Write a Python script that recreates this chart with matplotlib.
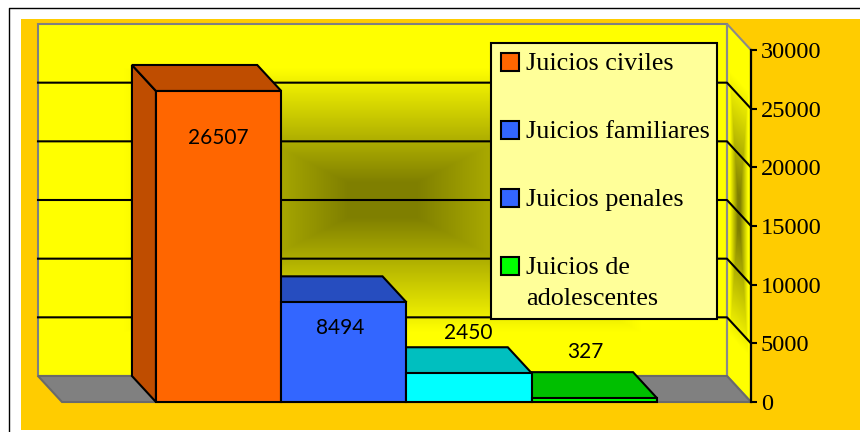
import matplotlib
matplotlib.use("Agg")
import matplotlib.pyplot as plt
import matplotlib.transforms as mtransforms
from matplotlib.colors import to_rgb
from matplotlib.patches import Polygon, Rectangle
import numpy as np

# ── data ──────────────────────────────────────────────────────────────────────
categories = ["Juicios civiles", "Juicios familiares", "Juicios penales",
              "Juicios de\nadolescentes"]
values = [26507, 8494, 2450, 327]
bar_colors = ["#FF6600", "#3366FF", "#00FFFF", "#00FF00"]
legend_colors = ["#FF6600", "#3366FF", "#3366FF", "#00FF00"]
y_ticks = [0, 5000, 10000, 15000, 20000, 25000, 30000]

# ── layout / style ────────────────────────────────────────────────────────────
W, H = 860, 432
DX, DY = 24, 26                     # 3-D depth offset in pixels (back is up-left)
GAP = 0.75                          # half gap (150% gap width) on each side
label_offsets = [(0, -47), (-4, -26), (-1, 40), (-9, 46)]   # pixels from bar top
YELLOW = np.array([1.0, 1.0, 0.0])
OLIVE = np.array([0.5, 0.5, 0.0])

plt.rcParams["font.family"] = ["Liberation Serif", "DejaVu Serif"]

fig = plt.figure(figsize=(W / 100, H / 100), dpi=100)
fig.patch.set_facecolor("white")

# background: white frame + orange chart area
bg = fig.add_axes([0, 0, 1, 1], zorder=0)
bg.set_xlim(0, W)
bg.set_ylim(H, 0)
bg.axis("off")
bg.add_patch(Rectangle((21, 19), W - 21, 411, facecolor="#FFCC00", edgecolor="none"))
bg.plot([9, 9, W], [H, 8, 8], color="black", lw=1.0)

# front plane of the plot: data coords
n = len(values)
xlo, xhi = -0.5 - GAP, n - 0.5 + GAP
ymax = y_ticks[-1]
ax = fig.add_axes([62 / W, 30 / H, 689 / W, 352 / H], zorder=1)
ax.set_xlim(xlo, xhi)
ax.set_ylim(0, ymax)
ax.patch.set_visible(False)
for s in ["left", "top", "bottom"]:
    ax.spines[s].set_visible(False)
ax.spines["right"].set_linewidth(1.6)
ax.yaxis.tick_right()
ax.set_yticks(y_ticks, labels=[str(t) for t in y_ticks])
ax.set_xticks([])
ax.tick_params(axis="y", direction="out", length=4.5, width=1.5, pad=2.5,
               labelsize=17.6, colors="black")

front = ax.transData
back = mtransforms.offset_copy(ax.transData, fig=fig, x=-DX, y=DY, units="dots")
ident = mtransforms.IdentityTransform()


def corner(x, y, depth):
    return (back if depth else front).transform((x, y))


def face(pts, **kw):
    p = Polygon([corner(*q) for q in pts], closed=True, transform=ident,
                clip_on=False, **kw)
    ax.add_patch(p)
    return p


def ramp(s):
    t = np.clip((s - 0.1) / 0.65, 0, 1)
    return OLIVE + (YELLOW - OLIVE) * t[..., None]


# back wall with rectangular "from centre" gradient
bx0, by0 = corner(xlo, 0, 1)
bx1, by1 = corner(xhi, ymax, 1)
U, V = np.meshgrid(np.linspace(-1, 1, int(bx1 - bx0)), np.linspace(-1, 1, int(by1 - by0)))
wall = face([(xlo, 0, 1), (xhi, 0, 1), (xhi, ymax, 1), (xlo, ymax, 1)],
            facecolor="none", edgecolor="#808080", lw=1.5, zorder=1.1)
ax.imshow(ramp(np.maximum(np.abs(U), np.abs(V))), extent=(bx0, bx1, by0, by1),
          origin="lower", transform=ident, aspect="auto", interpolation="bilinear",
          clip_path=wall, clip_box=fig.bbox, zorder=0.5)

# right wall
rw = face([(xhi, 0, 1), (xhi, 0, 0), (xhi, ymax, 0), (xhi, ymax, 1)],
          facecolor="none", edgecolor="#8a8a8a", lw=1.5, zorder=1.1)
fx0, fy0 = corner(xhi, 0, 0)
fx1, fy1 = corner(xhi, ymax, 0)
px = np.arange(int(bx1), int(fx0) + 1) + 0.5
py = np.arange(int(fy0), int(by1) + 1) + 0.5
PX, PY = np.meshgrid(px, py)
d = np.clip((PX - bx1) / DX, 0, 1)
h = (PY - (fy0 + DY * (1 - d))) / (fy1 - fy0)
ax.imshow(ramp(np.maximum(np.abs(2 * d - 1), np.abs(2 * h - 1))),
          extent=(px[0] - 0.5, px[-1] + 0.5, py[0] - 0.5, py[-1] + 0.5),
          origin="lower", transform=ident, aspect="auto", interpolation="bilinear",
          clip_path=rw, clip_box=fig.bbox, zorder=0.5)

# gridlines on the walls
for v in y_ticks[1:-1]:
    pts = np.array([corner(xlo, v, 1), corner(xhi, v, 1), corner(xhi, v, 0)])
    ax.plot(pts[:, 0], pts[:, 1], transform=ident, color="black", lw=1.5,
            clip_on=False, zorder=1.2)

# floor
face([(xlo, 0, 1), (xhi, 0, 1), (xhi, 0, 0), (xlo, 0, 0)],
     facecolor="#808080", edgecolor="#6a6a6a", lw=1.5, zorder=1.3)

# bars: side + top faces, drawn right to left
for i in reversed(range(n)):
    v = values[i]
    dark = tuple(np.array(to_rgb(bar_colors[i])) * 0.75)
    l, r = i - 0.5, i + 0.5
    face([(l, 0, 0), (l, v, 0), (l, v, 1), (l, 0, 1)],
         facecolor=dark, edgecolor="black", lw=1.5, zorder=2)
    face([(l, v, 0), (r, v, 0), (r, v, 1), (l, v, 1)],
         facecolor=dark, edgecolor="black", lw=1.5, zorder=2)

ax.bar(range(n), values, width=1.0, color=bar_colors, edgecolor="black",
       linewidth=1.5, zorder=3, clip_on=False)

for i, v in enumerate(values):
    ax.annotate(str(v), xy=(i, v), xytext=label_offsets[i], textcoords="offset pixels",
                ha="center", va="center", fontsize=15,
                family=["Lato", "DejaVu Sans"], zorder=4)

# legend (drawn on overlay, pixel coordinates)
ov = fig.add_axes([0, 0, 1, 1], zorder=5)
ov.set_xlim(0, W)
ov.set_ylim(H, 0)
ov.axis("off")
ov.add_patch(Rectangle((491, 43), 226, 276, facecolor="#FFFF99", edgecolor="black", lw=1.5))
row0, step = 62, 68
for k, (lab, col) in enumerate(zip(categories, legend_colors)):
    yc = row0 + k * step
    ov.add_patch(Rectangle((501, yc - 9), 18, 18, facecolor=col, edgecolor="black", lw=1.5))
    ov.text(526, yc - 9, lab, ha="left", va="top", fontsize=18.8, linespacing=1.55)

fig.savefig("out.png", dpi=100)
